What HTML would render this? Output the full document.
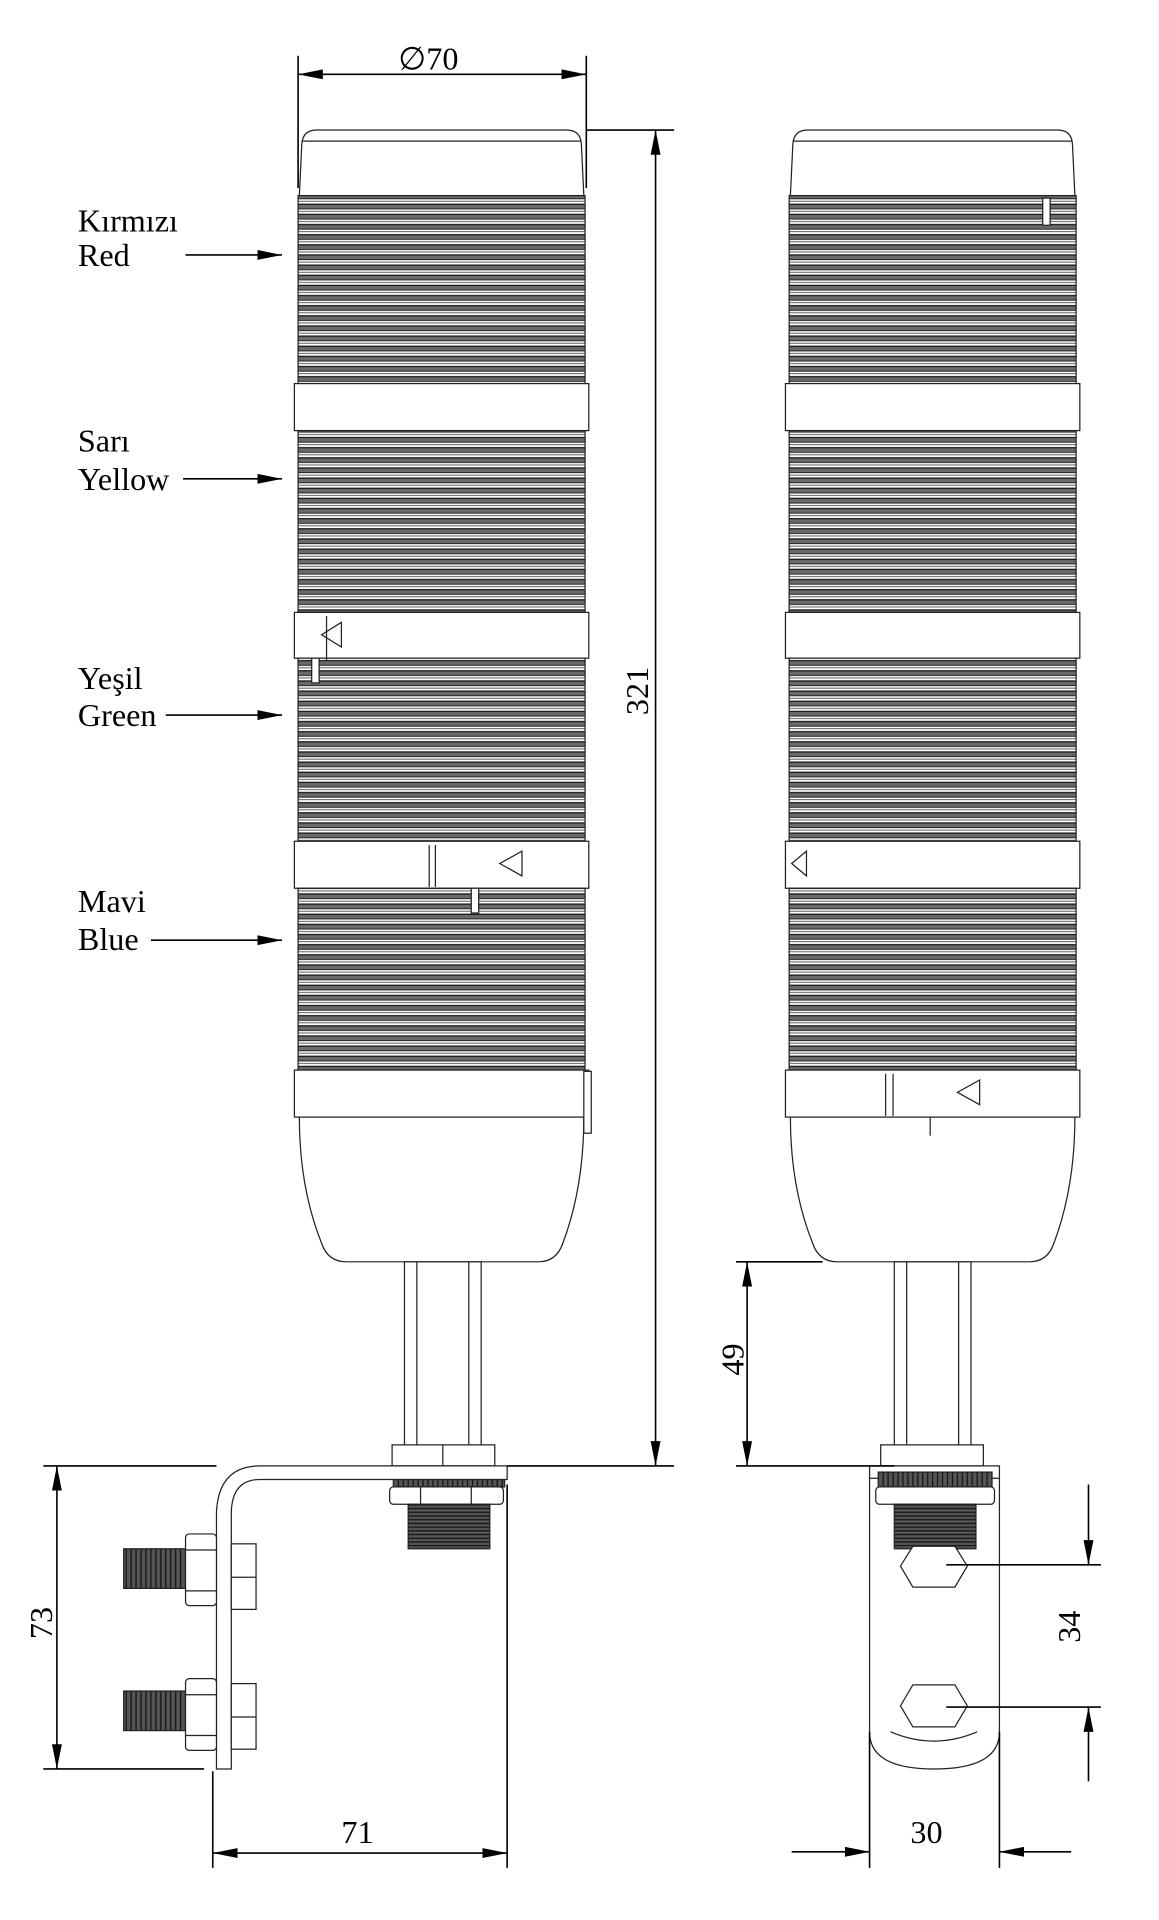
<!DOCTYPE html>
<html><head><meta charset="utf-8"><style>
html,body{margin:0;padding:0;background:#fff;width:1159px;height:1920px;overflow:hidden}
svg{display:block}
text{font-family:"Liberation Serif",serif;fill:#000}
</style></head><body>
<svg width="1159" height="1920" viewBox="0 0 937 1552" xmlns="http://www.w3.org/2000/svg">
<defs>
<pattern id="rib" width="10" height="8.2" patternUnits="userSpaceOnUse">
<rect width="10" height="8.2" fill="#fff"/>
<rect y="0.8" width="10" height="4.2" fill="#6a6a6a"/>
<line x1="0" y1="1" x2="10" y2="1" stroke="#111" stroke-width="1"/>
<line x1="0" y1="4.8" x2="10" y2="4.8" stroke="#222" stroke-width="0.8"/>
<line x1="0" y1="6.8" x2="10" y2="6.8" stroke="#444" stroke-width="0.7"/>
</pattern>
<pattern id="thr" width="4" height="4" patternUnits="userSpaceOnUse">
<rect width="4" height="4" fill="#555"/><line x1="2" y1="0" x2="2" y2="4" stroke="#111" stroke-width="1"/>
</pattern>
<pattern id="thh" width="4" height="3" patternUnits="userSpaceOnUse">
<rect width="4" height="3" fill="#555"/><line x1="0" y1="1.5" x2="4" y2="1.5" stroke="#111" stroke-width="1"/>
</pattern>
<marker id="a" viewBox="0 0 20 10" refX="20" refY="5" markerWidth="20" markerHeight="10" markerUnits="userSpaceOnUse" orient="auto-start-reverse"><path d="M0,1 L20,5 L0,9 Z" fill="#000"/></marker>
<g id="tower" stroke="#222" stroke-width="1" fill="#fff">
<path d="M2,158 L4,116 Q5,105 16,105 L218,105 Q229,105 230,116 L232,158 Z"/>
<line x1="4" y1="114" x2="230" y2="114"/>
<rect x="1" y="158" width="232" height="152" fill="url(#rib)"/>
<rect x="-2" y="310" width="238" height="38"/>
<rect x="1" y="348" width="232" height="147" fill="url(#rib)"/>
<rect x="-2" y="495" width="238" height="37"/>
<rect x="1" y="532" width="232" height="148" fill="url(#rib)"/>
<rect x="-2" y="680" width="238" height="38"/>
<rect x="1" y="718" width="232" height="147" fill="url(#rib)"/>
<rect x="-2" y="865" width="238" height="38"/>
<path d="M2,903 L232,903 Q232,960 215,1005 Q210,1020 195,1020 L40,1020 Q25,1020 20,1005 Q2,960 2,903 Z"/>
</g>
</defs>

<use href="#tower" x="240"/>
<rect x="327" y="1020" width="62" height="150" fill="#fff" stroke="#222"/>
<line x1="337" y1="1020" x2="337" y2="1170" stroke="#222"/>
<line x1="379" y1="1020" x2="379" y2="1170" stroke="#222"/>
<path d="M264,498 v36 M245,534 h12" stroke="#222" fill="none"/>
<path d="M276,503 L260,513 L276,523 Z" fill="none" stroke="#222"/>
<path d="M347,683 v34 M352,683 v34" stroke="#222"/>
<path d="M422,688 L404,698 L422,708 Z" fill="none" stroke="#222"/>
<rect x="381" y="718" width="6" height="20" fill="#fff" stroke="#222"/>
<rect x="252" y="532" width="6" height="20" fill="#fff" stroke="#222"/>
<rect x="472" y="866" width="6" height="50" fill="#fff" stroke="#222"/>
<rect x="317" y="1168" width="83" height="17" fill="#fff" stroke="#222"/>
<line x1="358" y1="1168" x2="358" y2="1185" stroke="#222"/>
<rect x="318" y="1190" width="90" height="12" fill="url(#thr)" stroke="#222"/>
<rect x="315" y="1202" width="92" height="14" rx="3" fill="#fff" stroke="#222"/>
<line x1="340" y1="1202" x2="340" y2="1216" stroke="#222"/><line x1="381" y1="1202" x2="381" y2="1216" stroke="#222"/>
<rect x="330" y="1216" width="66" height="36" fill="url(#thh)" stroke="#222"/>
<path d="M210,1185 L410,1185 L410,1196 L210,1196 Q188,1196 187,1222 L187,1430 L175,1430 L175,1222 Q177,1185 210,1185 Z" fill="#fff" stroke="#222"/>
<rect x="100" y="1252" width="50" height="32" fill="url(#thr)" stroke="#222"/>
<rect x="100" y="1367" width="50" height="32" fill="url(#thr)" stroke="#222"/>
<rect x="150" y="1240" width="25" height="58" rx="3" fill="#fff" stroke="#222"/>
<rect x="187" y="1248" width="20" height="53" fill="#fff" stroke="#222"/>
<line x1="187" y1="1275" x2="207" y2="1275" stroke="#222"/><line x1="150" y1="1253" x2="175" y2="1253" stroke="#222"/><line x1="150" y1="1286" x2="175" y2="1286" stroke="#222"/>
<rect x="150" y="1357" width="25" height="58" rx="3" fill="#fff" stroke="#222"/>
<rect x="187" y="1361" width="20" height="53" fill="#fff" stroke="#222"/>
<line x1="187" y1="1388" x2="207" y2="1388" stroke="#222"/><line x1="150" y1="1370" x2="175" y2="1370" stroke="#222"/><line x1="150" y1="1403" x2="175" y2="1403" stroke="#222"/>

<use href="#tower" x="637"/>
<rect x="723" y="1020" width="62" height="150" fill="#fff" stroke="#222"/>
<line x1="733" y1="1020" x2="733" y2="1170" stroke="#222"/>
<line x1="775" y1="1020" x2="775" y2="1170" stroke="#222"/>
<rect x="843" y="160" width="6" height="22" fill="#fff" stroke="#222"/>
<path d="M652,688 L640,698 L652,708 Z" fill="none" stroke="#222"/>
<path d="M716,868 v34 M722,868 v34" stroke="#222"/>
<path d="M792,873 L774,883 L792,893 Z" fill="none" stroke="#222"/>
<line x1="752" y1="903" x2="752" y2="918" stroke="#222"/>
<rect x="712" y="1168" width="83" height="17" fill="#fff" stroke="#222"/>
<rect x="703" y="1185" width="105" height="10" fill="#fff" stroke="#222"/>
<rect x="710" y="1190" width="92" height="12" fill="url(#thr)" stroke="#222"/>
<rect x="708" y="1202" width="96" height="14" rx="3" fill="#fff" stroke="#222"/>
<path d="M703,1195 L703,1400 Q703,1430 755,1430 Q808,1430 808,1400 L808,1195" fill="none" stroke="#222"/>
<rect x="723" y="1216" width="66" height="36" fill="url(#thh)" stroke="#222"/>
<path d="M738,1250 L772,1250 L782,1266 L772,1283 L738,1283 L728,1266 Z" fill="#fff" stroke="#222"/>
<path d="M738,1362 L772,1362 L782,1379 L772,1396 L738,1396 L728,1379 Z" fill="#fff" stroke="#222"/>
<path d="M720,1400 Q755,1415 790,1400" fill="none" stroke="#222"/>

<g stroke="#000" stroke-width="1.3" fill="none">
<line x1="241" y1="45" x2="241" y2="152"/><line x1="474" y1="45" x2="474" y2="152"/>
<line x1="241" y1="60" x2="474" y2="60" marker-start="url(#a)" marker-end="url(#a)"/>
<line x1="474" y1="105" x2="545" y2="105"/><line x1="410" y1="1185" x2="545" y2="1185"/>
<line x1="530" y1="105" x2="530" y2="1185" marker-start="url(#a)" marker-end="url(#a)"/>
<line x1="595" y1="1020" x2="665" y2="1020"/><line x1="595" y1="1185" x2="723" y2="1185"/>
<line x1="604" y1="1020" x2="604" y2="1185" marker-start="url(#a)" marker-end="url(#a)"/>
<line x1="35" y1="1185" x2="175" y2="1185"/><line x1="35" y1="1430" x2="165" y2="1430"/>
<line x1="46" y1="1185" x2="46" y2="1430" marker-start="url(#a)" marker-end="url(#a)"/>
<line x1="172" y1="1432" x2="172" y2="1510"/><line x1="410" y1="1200" x2="410" y2="1510"/>
<line x1="172" y1="1498" x2="410" y2="1498" marker-start="url(#a)" marker-end="url(#a)"/>
<line x1="703" y1="1400" x2="703" y2="1510"/><line x1="808" y1="1400" x2="808" y2="1510"/>
<line x1="640" y1="1497" x2="703" y2="1497" marker-end="url(#a)"/>
<line x1="866" y1="1497" x2="808" y2="1497" marker-end="url(#a)"/>
<line x1="765" y1="1265" x2="890" y2="1265"/><line x1="765" y1="1380" x2="890" y2="1380"/>
<line x1="880" y1="1200" x2="880" y2="1265" marker-end="url(#a)"/>
<line x1="880" y1="1440" x2="880" y2="1380" marker-end="url(#a)"/>
<line x1="150" y1="206" x2="228" y2="206" marker-end="url(#a)"/>
<line x1="148" y1="387" x2="228" y2="387" marker-end="url(#a)"/>
<line x1="134" y1="578" x2="228" y2="578" marker-end="url(#a)"/>
<line x1="122" y1="760" x2="228" y2="760" marker-end="url(#a)"/>
</g>
<g font-size="26">
<text x="322" y="56">∅70</text>
<text x="0" y="0" transform="translate(524,578) rotate(-90)">321</text>
<text x="0" y="0" transform="translate(601,1112) rotate(-90)">49</text>
<text x="0" y="0" transform="translate(42,1325) rotate(-90)">73</text>
<text x="0" y="0" transform="translate(873,1328) rotate(-90)">34</text>
<text x="276" y="1490">71</text>
<text x="736" y="1490">30</text>
<text x="63" y="187">Kırmızı</text>
<text x="63" y="215">Red</text>
<text x="63" y="365">Sarı</text>
<text x="63" y="396">Yellow</text>
<text x="63" y="557">Yeşil</text>
<text x="63" y="587">Green</text>
<text x="63" y="737">Mavi</text>
<text x="63" y="768">Blue</text>
</g>
</svg>
</body></html>
